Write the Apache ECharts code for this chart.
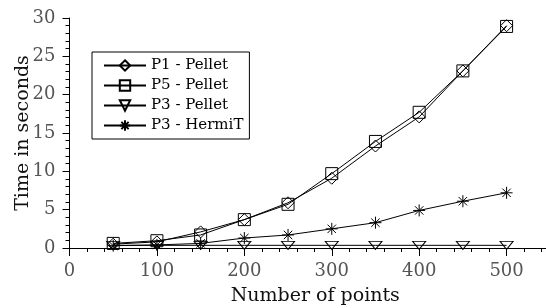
<!DOCTYPE html>
<html>
<head>
<meta charset="utf-8">
<script src="https://cdn.jsdelivr.net/npm/echarts@6/dist/echarts.min.js"></script>
<style>
  html, body { margin: 0; padding: 0; background: #fff; }
  #chart { width: 546px; height: 308px; }
</style>
</head>
<body>
<div id="chart"></div>
<script>
// number of points
const points = [50, 100, 150, 200, 250, 300, 350, 400, 450, 500];

// time in seconds
const p1Pellet = [0.5, 0.8, 2.1, 3.7, 5.9, 9.1, 13.3, 17.1, 23.1, 29.0];
const p5Pellet = [0.6, 0.95, 1.7, 3.7, 5.7, 9.7, 13.9, 17.7, 23.1, 28.9];
const p3Pellet = [0.35, 0.35, 0.35, 0.35, 0.35, 0.35, 0.35, 0.35, 0.35, 0.35];
const p3HermiT = [0.3, 0.4, 0.6, 1.3, 1.7, 2.5, 3.3, 4.9, 6.1, 7.2];

const seriesNames = ['P1 - Pellet', 'P5 - Pellet', 'P3 - Pellet', 'P3 - HermiT'];

const FONT = 'DejaVu Serif';
const starPath = 'path://M5,0L5,10M0,5L10,5M1.5,1.5L8.5,8.5M1.5,8.5L8.5,1.5';
const triDown = 'path://M0,0L12,0L6,8Z';

const chart = echarts.init(document.getElementById('chart'));

function mk(name, values, symbol, size) {
  return {
    name: name,
    type: 'line',
    data: points.map((x, i) => [x, values[i]]),
    symbol: symbol,
    symbolSize: size,
    showAllSymbol: true,
    lineStyle: { color: '#000', width: 1 },
    itemStyle: { color: 'rgba(255,255,255,0)', borderColor: '#000', borderWidth: 1 },
    emphasis: { disabled: true },
    animation: false
  };
}

chart.setOption({
  animation: false,
  // the x axis runs past the right edge of the picture
  grid: { left: 69.5, top: 18, bottom: 60, width: 524.5, containLabel: false, outerBoundsMode: 'none' },
  legend: {
    orient: 'vertical',
    left: 92,
    top: 52,
    data: seriesNames,
    itemWidth: 42,
    itemHeight: 13,
    itemGap: 5,
    padding: [6, 6, 6, 11],
    borderColor: '#000',
    borderWidth: 1,
    backgroundColor: '#fff',
    textStyle: { fontFamily: FONT, fontSize: 15, color: '#000' }
  },
  xAxis: {
    type: 'value',
    min: 0,
    max: 600,
    interval: 100,
    name: 'Number of points',
    nameLocation: 'middle',
    nameGap: 39,
    nameMoveOverlap: false,
    nameTextStyle: { fontFamily: FONT, fontSize: 19, color: '#111', padding: [0, 33, 0, 0] },
    axisLine: { show: true, lineStyle: { color: '#000', width: 1 } },
    axisTick: { show: true, length: 8, lineStyle: { color: '#000' } },
    minorTick: { show: true, splitNumber: 5, length: 4, lineStyle: { color: '#000' } },
    splitLine: { show: false },
    axisLabel: { fontFamily: FONT, fontSize: 18, color: '#555', margin: 14 }
  },
  yAxis: {
    type: 'value',
    min: 0,
    max: 30,
    interval: 5,
    name: 'Time in seconds',
    nameLocation: 'middle',
    nameGap: 37,
    nameMoveOverlap: false,
    nameTextStyle: { fontFamily: FONT, fontSize: 19, color: '#111' },
    axisLine: { show: true, lineStyle: { color: '#000', width: 1 } },
    axisTick: { show: true, length: 7, lineStyle: { color: '#000' } },
    minorTick: { show: true, splitNumber: 5, length: 4, lineStyle: { color: '#000' } },
    splitLine: { show: false },
    axisLabel: { fontFamily: FONT, fontSize: 18, color: '#555', margin: 14 }
  },
  series: [
    mk(seriesNames[0], p1Pellet, 'diamond', 12),
    mk(seriesNames[1], p5Pellet, 'rect', 12),
    mk(seriesNames[2], p3Pellet, triDown, [13, 8]),
    mk(seriesNames[3], p3HermiT, starPath, 12)
  ]
});
</script>
</body>
</html>
